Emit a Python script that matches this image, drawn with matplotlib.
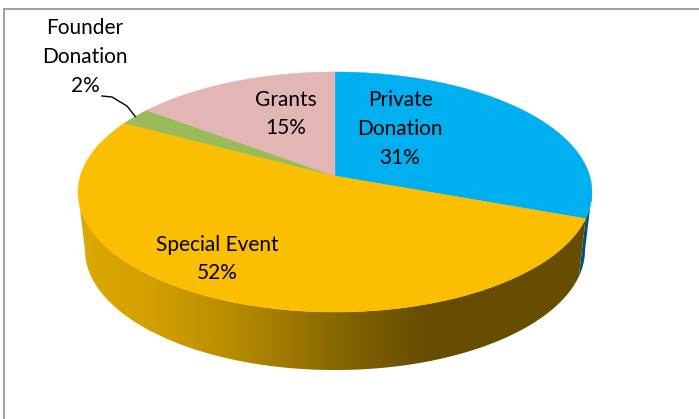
import numpy as np
import matplotlib
matplotlib.use("Agg")
import matplotlib.pyplot as plt
from matplotlib.colors import LinearSegmentedColormap
from matplotlib.patches import Polygon

plt.rcParams['font.family'] = ['Lato', 'DejaVu Sans']

# Datos (en sentido horario desde arriba)
categories = ['Private\nDonation', 'Special Event', 'Founder\nDonation', 'Grants']
shares = [30.6, 52.3, 2.4, 14.7]
top_colors = ['#00AFEF', '#FBBE00', '#9BBB59', '#E2B6B5']

# Centro de cada etiqueta en pixeles
label_pos = [(400, 129), (217, 259), (85, 57), (286, 114)]

# Perspectiva del disco
P = 0.1333
CX = 335
TILT = 117.9
TOP_LEVEL = (254.7, 176)
BOTTOM_LEVEL = (247.8, 234)


def project(frac, level):
    # fraccion de vuelta -> pixeles, con el lado cercano mas grande
    theta = 2 * np.pi * np.asarray(frac)
    u, v = np.sin(theta), -np.cos(theta)
    w = 1 - P * v
    return CX + level[0] * u / w, level[1] + TILT * v / w


def side_wall(f0, f1):
    fr = np.linspace(f0, f1, 200)
    xt, yt = project(fr, TOP_LEVEL)
    xb, yb = project(fr[::-1], BOTTOM_LEVEL)
    return np.column_stack([np.r_[xt, xb], np.r_[yt, yb]])


fig = plt.figure(figsize=(6.99, 4.19), dpi=100)
ax = fig.add_axes([0, 0, 1, 1])
ax.axis('off')

edges = np.r_[0, np.cumsum(shares)] / sum(shares)
right_limit = np.arccos(-P) / (2 * np.pi)
left_limit = 1 - right_limit

# Paredes laterales
ax.add_patch(Polygon(side_wall(right_limit, edges[1]), closed=True, fc='#00527A', ec='none', zorder=1))
wall_cmap = LinearSegmentedColormap.from_list('wall', [
    (0.00, '#DDA900'), (0.14, '#D2A000'), (0.24, '#C39400'), (0.34, '#AF8500'),
    (0.44, '#967200'), (0.54, '#7F6100'), (0.68, '#664D00'), (1.00, '#664D00')])
wall = ax.imshow(np.linspace(0, 1, 512).reshape(1, -1), extent=[78, 592, 380, 150],
                 cmap=wall_cmap, aspect='auto', zorder=2)
wall_clip = Polygon(side_wall(edges[1], left_limit), closed=True, fc='none', ec='none',
                    transform=ax.transData)
ax.add_patch(wall_clip)
wall.set_clip_path(wall_clip)

# Cara superior
for i, color in enumerate(top_colors):
    fr = np.linspace(edges[i], edges[i + 1], 200)
    xs, ys = project(fr, TOP_LEVEL)
    pts = np.column_stack([np.r_[CX, xs], np.r_[TOP_LEVEL[1], ys]])
    ax.add_patch(Polygon(pts, closed=True, fc=color, ec=color, lw=0.3, zorder=3))

# Etiquetas
for name, share, pos in zip(categories, shares, label_pos):
    ax.text(pos[0], pos[1], f"{name}\n{share:.0f}%", ha='center', va='center',
            fontsize=15.0, color='black', linespacing=1.55, zorder=5)

# Linea guia de Founder Donation
mx, my = project((edges[2] + edges[3]) / 2, TOP_LEVEL)
ax.plot([102, 112, 127, mx], [96, 97, 106, my], color='black', lw=1.0, zorder=4)

# Marco del area del grafico
ax.plot([4, 4, 699], [419, 9.5, 9.5], color='#868686', lw=1.1, zorder=6, solid_joinstyle='miter')

ax.set_xlim(0, 699)
ax.set_ylim(419, 0)

fig.savefig('out.png', dpi=100)
